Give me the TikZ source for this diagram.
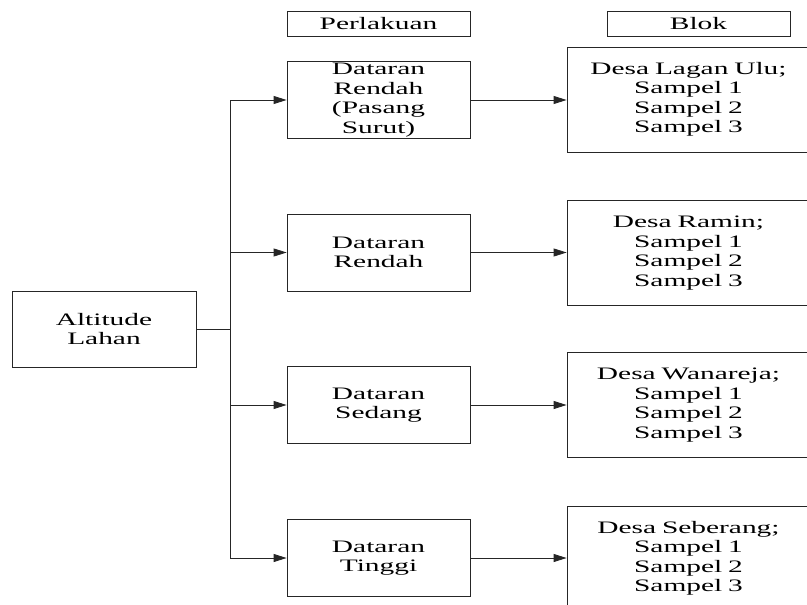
\documentclass[tikz,border=0pt]{standalone}
\usepackage{fontspec}
\setmainfont{Liberation Serif}[FakeStretch=1.68]
\usetikzlibrary{arrows.meta}
\tikzset{
  box/.style={draw=black!85, line width=0.8pt, minimum width=183pt, align=center,
    font=\fontsize{17.5}{19.5}\selectfont, inner sep=0pt},
  hdr/.style={box, minimum height=25pt},
  treat/.style={box, minimum height=77pt},
  blk/.style={box, minimum width=243pt, minimum height=105pt, text width=243pt},
  conn/.style={draw=black!85, line width=0.8pt},
  arr/.style={conn, -{Triangle[length=13pt,width=8pt]}}
}
\begin{document}
\begin{tikzpicture}[x=1pt,y=-1pt]
\useasboundingbox (0,0) rectangle (807,605);
\node[hdr] (hp) at (378.5,23.5) {Perlakuan};
\node[hdr] (hb) at (698.5,23.5) {Blok};
\node[treat] (t1) at (378.5,100) {Dataran\\Rendah\\(Pasang\\Surut)};
\node[treat] (t2) at (378.5,252.5) {Dataran\\Rendah};
\node[treat] (t3) at (378.5,405) {Dataran\\Sedang};
\node[treat] (t4) at (378.5,558) {Dataran\\Tinggi};
\node[box, minimum width=184pt, minimum height=76pt] (a) at (104,329) {Altitude\\Lahan};
\node[blk] (b1) at (688.5,99.5) {Desa Lagan Ulu;\\Sampel 1\\Sampel 2\\Sampel 3};
\node[blk] (b2) at (688.5,253) {Desa Ramin;\\Sampel 1\\Sampel 2\\Sampel 3};
\node[blk] (b3) at (688.5,405) {Desa Wanareja;\\Sampel 1\\Sampel 2\\Sampel 3};
\node[blk] (b4) at (688.5,558.5) {Desa Seberang;\\Sampel 1\\Sampel 2\\Sampel 3};
\coordinate (j) at (230,329);
\draw[conn] (a.east) -- (j);
\draw[conn] (j |- t1.west) -- (j |- t4.west);
\foreach \t/\b in {t1/b1,t2/b2,t3/b3,t4/b4}{
  \draw[arr] (j |- \t.west) -- (\t.west);
  \draw[arr] (\t.east) -- (\t.east -| \b.west);
}
\end{tikzpicture}
\end{document}
